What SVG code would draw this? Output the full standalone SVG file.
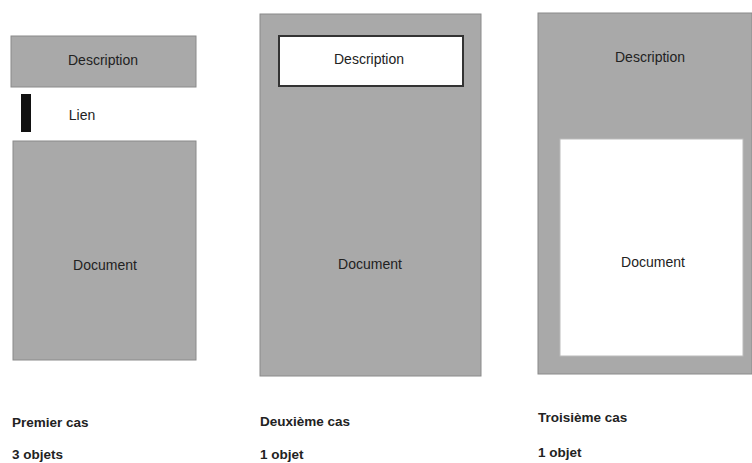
<svg xmlns="http://www.w3.org/2000/svg" width="752" height="463" viewBox="0 0 752 463">
<style>
.g{fill:#a9a9a9;stroke:#8a8a8a;stroke-width:1}
.w{fill:#ffffff}
.t{font-family:"Liberation Sans",Arial,sans-serif;font-size:14px;fill:#222;text-anchor:middle}
.c{font-family:"Liberation Sans",Arial,sans-serif;font-size:13.5px;font-weight:bold;fill:#222}
</style>
<rect width="752" height="463" fill="#fff"/>
<g id="cas1-description"><rect class="g" x="11" y="36" width="185" height="51"/><text class="t" x="103" y="65">Description</text></g>
<g id="cas1-lien"><rect x="21" y="94" width="10" height="38" fill="#111"/><text class="t" x="82" y="120">Lien</text></g>
<g id="cas1-document"><rect class="g" x="13" y="141" width="183" height="219"/><text class="t" x="105" y="270">Document</text></g>
<g id="cas2-document"><rect class="g" x="260" y="14" width="221" height="362"/><text class="t" x="370" y="269">Document</text></g>
<g id="cas2-description"><rect class="w" x="279" y="36" width="184" height="50" stroke="#333" stroke-width="2"/><text class="t" x="369" y="64">Description</text></g>
<g id="cas3-objet"><rect class="g" x="538" y="13" width="214" height="361"/><text class="t" x="650" y="62">Description</text><rect class="w" x="560" y="139" width="183" height="217" stroke="#bbb" stroke-width="1"/><text class="t" x="653" y="267">Document</text></g>
<g id="connectors"></g>
<g id="labels">
<text class="c" x="12" y="427">Premier cas</text>
<text class="c" x="12" y="459">3 objets</text>
<text class="c" x="260" y="426">Deuxième cas</text>
<text class="c" x="260" y="459">1 objet</text>
<text class="c" x="538" y="422">Troisième cas</text>
<text class="c" x="538" y="457">1 objet</text>
</g>
</svg>
